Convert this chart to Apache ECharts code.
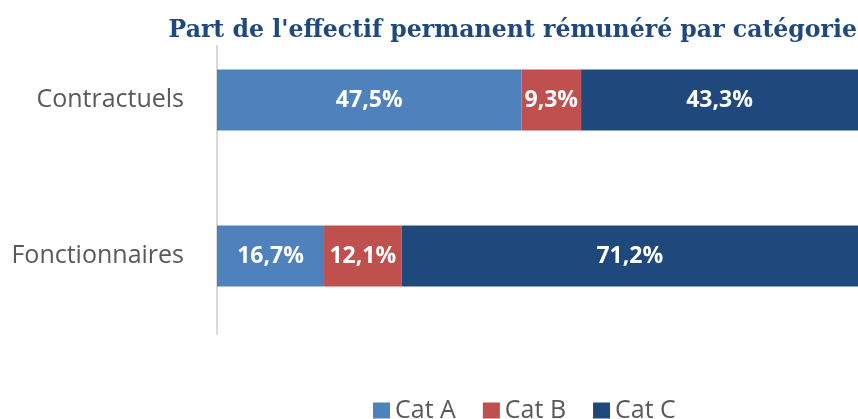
<!DOCTYPE html>
<html>
<head>
<meta charset="utf-8">
<script src="https://cdn.jsdelivr.net/npm/echarts@6/dist/echarts.min.js"></script>
<style>
  html, body { margin: 0; padding: 0; background: #fff; }
  #main { width: 858px; height: 419px; }
</style>
</head>
<body>
<div id="main"></div>
<script>
var categories = ['Contractuels', 'Fonctionnaires'];
var catA = [47.5, 16.7];
var catB = [9.3, 12.1];
var catC = [43.3, 71.2];
var seriesNames = ['Cat A', 'Cat B', 'Cat C'];

var dom = document.getElementById("main");
var myChart = echarts.init(dom);

function pct(p) {
    return p.value.toFixed(1).replace('.', ',') + '%';
}

var labelStyle = {
    show: true,
    position: 'inside',
    color: '#fff',
    fontFamily: 'Open Sans',
    fontWeight: 'bold',
    fontSize: 23,
    formatter: pct
};

option = {
    animation: false,
    title: {
        text: "Part de l'effectif permanent rémunéré par catégorie",
        right: 1,
        top: 17,
        padding: [2, 0, 2, 0],
        backgroundColor: '#fff',
        textStyle: {
            fontFamily: 'DejaVu Serif',
            fontWeight: 'bold',
            fontSize: 23.6,
            color: '#1F497D'
        }
    },
    legend: {
        data: seriesNames,
        left: 368,
        top: 393,
        itemWidth: 17,
        itemHeight: 16,
        itemGap: 27,
        icon: 'rect',
        textStyle: {
            fontFamily: 'Open Sans',
            fontSize: 25,
            color: '#595959'
        }
    },
    grid: {
        left: 217,
        top: 22,
        width: 644,
        height: 312
    },
    xAxis: {
        type: 'value',
        min: 0,
        max: 100,
        show: false
    },
    yAxis: {
        type: 'category',
        inverse: true,
        data: categories,
        axisLine: { lineStyle: { color: '#D9D9D9', width: 2 } },
        axisTick: { show: false },
        axisLabel: {
            margin: 33,
            fontFamily: 'Open Sans',
            fontSize: 25,
            color: '#595959'
        }
    },
    series: [
        {
            name: seriesNames[0],
            type: 'bar',
            stack: 'total',
            barWidth: 61,
            itemStyle: { color: '#4F81BD' },
            label: labelStyle,
            data: catA
        },
        {
            name: seriesNames[1],
            type: 'bar',
            stack: 'total',
            barWidth: 61,
            itemStyle: { color: '#C0504D' },
            label: labelStyle,
            data: catB
        },
        {
            name: seriesNames[2],
            type: 'bar',
            stack: 'total',
            barWidth: 61,
            itemStyle: { color: '#1F497D' },
            label: labelStyle,
            data: catC
        }
    ]
};
myChart.setOption(option);
</script>
</body>
</html>
